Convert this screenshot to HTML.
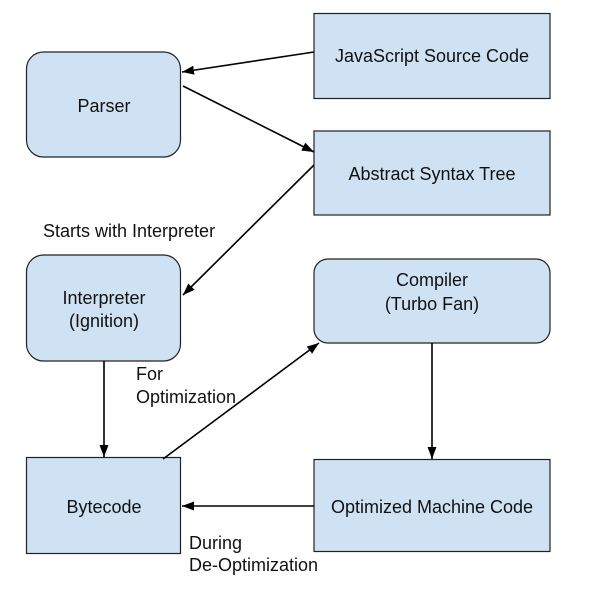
<!DOCTYPE html>
<html><head><meta charset="utf-8"><style>
html,body{margin:0;padding:0;background:#fff;}
svg{display:block;}
text{font-family:"Liberation Sans",Arial,sans-serif;font-size:18px;fill:#111;}
</style></head><body>
<svg width="590" height="604" viewBox="0 0 590 604" xmlns="http://www.w3.org/2000/svg">
<defs>
<marker id="a" markerWidth="12" markerHeight="9" refX="12" refY="4.5" orient="auto" markerUnits="userSpaceOnUse">
<path d="M0,0 L12,4.5 L0,9 Z" fill="#000"/>
</marker>
</defs>
<g fill="#cfe2f3" stroke="#222" stroke-width="1.2">
<rect x="314" y="13.5" width="236" height="85"/>
<rect x="26.5" y="52" width="154" height="105" rx="17"/>
<rect x="314" y="131" width="236" height="84"/>
<rect x="26.5" y="255" width="154" height="106" rx="17"/>
<rect x="314" y="259" width="236" height="84" rx="14"/>
<rect x="26.5" y="457.5" width="154" height="96"/>
<rect x="314" y="459.5" width="236" height="92"/>
</g>
<g stroke="#000" stroke-width="1.6" fill="none" marker-end="url(#a)">
<line x1="314" y1="52" x2="182" y2="72"/>
<line x1="183" y1="86" x2="314" y2="152"/>
<line x1="314" y1="165" x2="183" y2="295"/>
<line x1="104" y1="361" x2="104" y2="457"/>
<line x1="163" y1="459" x2="319" y2="343"/>
<line x1="432" y1="343" x2="432" y2="459"/>
<line x1="314" y1="506" x2="182" y2="506"/>
</g>
<g text-anchor="middle">
<text x="432" y="62">JavaScript Source Code</text>
<text x="104" y="112">Parser</text>
<text x="432" y="180">Abstract Syntax Tree</text>
<text x="104" y="304">Interpreter</text>
<text x="104" y="327">(Ignition)</text>
<text x="432" y="286">Compiler</text>
<text x="432" y="310">(Turbo Fan)</text>
<text x="104" y="513">Bytecode</text>
<text x="432" y="513">Optimized Machine Code</text>
</g>
<text x="43" y="237">Starts with Interpreter</text>
<text x="136" y="380">For</text>
<text x="136" y="403">Optimization</text>
<text x="189" y="549">During</text>
<text x="189" y="571">De-Optimization</text>
</svg>
</body></html>
